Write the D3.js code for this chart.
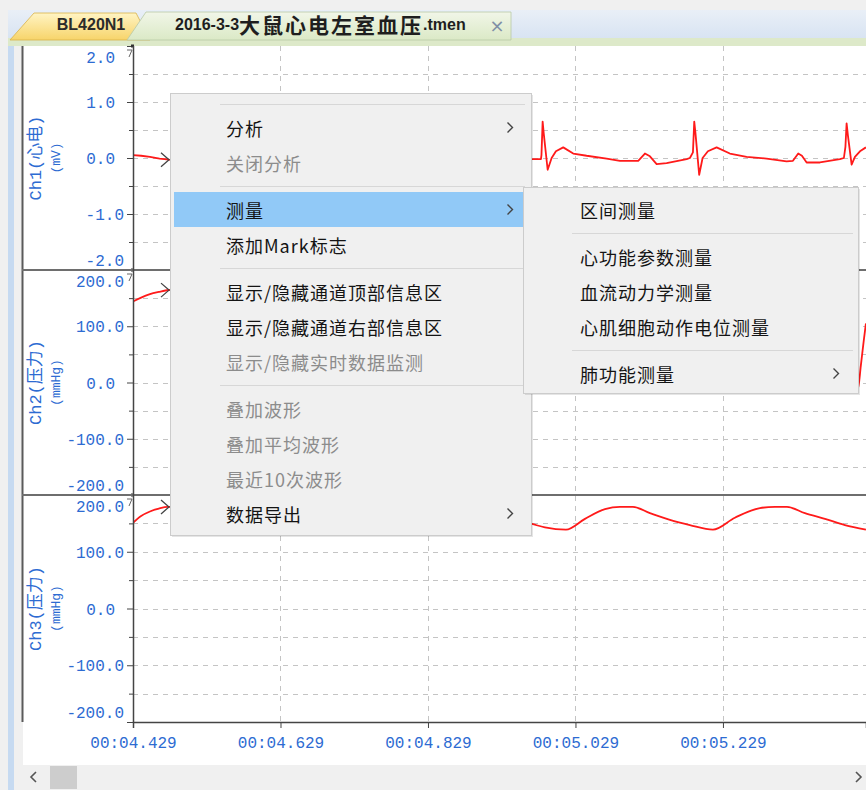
<!DOCTYPE html>
<html><head><meta charset="utf-8">
<script src="https://cdn.jsdelivr.net/npm/d3@7"></script>
<style>body{margin:0;background:#f0f0f0;overflow:hidden}svg{display:block}</style>
</head><body>
<svg id="c" width="866" height="790"></svg>
<script>
// ---------- data ----------
const xTickValues = [4.429, 4.629, 4.829, 5.029, 5.229];
const xTickLabels = ["00:04.429", "00:04.629", "00:04.829", "00:05.029", "00:05.229"];
const xDomain = [4.429, 5.423];

const channelNames = ["Ch1(心电)", "Ch2(压力)", "Ch3(压力)"];
const channelUnits = ["(mV)", "(mmHg)", "(mmHg)"];

const ch1Domain = [-2, 2];
const ch1TickValues = [2, 1, 0, -1, -2];
const ch1TickLabels = ["2.0", "1.0", "0.0", "-1.0", "-2.0"];
const ch1MinorTicks = [1.5, 0.5, -0.5, -1.5];

const pressDomain = [-200, 200];
const pressTickValues = [200, 100, 0, -100, -200];
const pressTickLabels = ["200.0", "100.0", "0.0", "-100.0", "-200.0"];
const pressMinorTicks = [150, 50, -50, -150];

// Ch1 ECG (mV)
const ecgSamples = [
 [4.429,0.05],[4.440,0.04],[4.452,0.02],[4.465,-0.01],[4.478,-0.03],[4.495,-0.05],[4.512,-0.05],[4.520,0.08],[4.527,0.03],[4.536,-0.11],[4.550,-0.09],[4.564,-0.02],
 [4.5716,0.0],[4.5730,0.64],[4.5744,0.48],[4.5798,-0.22],[4.5852,0.0],[4.5920,0.12],[4.6015,0.19],[4.6150,0.08],[4.6327,0.04],[4.6598,-0.01],[4.6788,-0.05],[4.7032,-0.05],[4.7113,0.08],[4.7181,0.03],[4.7276,-0.11],[4.7411,-0.09],[4.7683,-0.02],
 [4.7776,0.0],[4.7790,0.66],[4.7804,0.50],[4.7858,-0.25],[4.7912,0.0],[4.7980,0.12],[4.8075,0.18],[4.8210,0.08],[4.8387,0.03],[4.8658,-0.01],[4.8848,-0.05],[4.9092,-0.05],[4.9173,0.08],[4.9241,0.02],[4.9336,-0.10],[4.9471,-0.09],[4.9700,-0.02],
 [4.9822,-0.02],[4.9829,0.05],[4.9845,0.65],[4.9859,0.45],[4.9913,-0.21],[4.9967,0.0],[5.0025,0.12],[5.0124,0.19],[5.0260,0.08],[5.0442,0.04],[5.0713,-0.01],[5.0893,-0.05],[5.1141,-0.05],[5.1232,0.08],[5.1300,0.03],[5.1391,-0.11],[5.1526,-0.09],[5.1798,-0.02],[5.1842,0.0],
 [5.1883,0.10],[5.1901,0.65],[5.1917,0.45],[5.1968,-0.30],[5.2014,0.0],[5.2086,0.12],[5.2204,0.19],[5.2384,0.08],[5.2611,0.02],[5.2882,-0.01],[5.3153,-0.06],[5.3239,-0.05],[5.3311,0.08],[5.3361,0.04],[5.3425,-0.08],[5.3605,-0.08],[5.3876,-0.02],[5.3930,0.0],
 [5.3951,0.20],[5.3967,0.62],[5.3985,0.40],[5.4035,-0.12],[5.4080,0.02],[5.4148,0.12],[5.4229,0.19]
];
// Ch2 left-ventricular pressure (mmHg)
const lvSamples = [
 [4.429,144],[4.440,151],[4.452,157],[4.464,161],[4.475,164],[4.487,165],[4.498,160],[4.510,140],[4.520,90],[4.530,35],[4.540,10],[4.555,4],[4.575,3],
 [4.585,20],[4.592,80],[4.600,140],[4.612,165],[4.625,172],[4.640,168],[4.655,150],[4.668,100],[4.678,40],[4.690,10],[4.710,4],[4.740,3],[4.780,3],
 [4.790,30],[4.798,100],[4.810,155],[4.825,170],[4.840,168],[4.855,150],[4.868,100],[4.880,40],[4.892,10],[4.910,4],[4.950,3],[4.988,3],
 [4.996,40],[5.004,110],[5.015,155],[5.030,170],[5.045,168],[5.060,150],[5.073,100],[5.085,40],[5.097,10],[5.115,4],[5.155,3],[5.192,3],
 [5.200,40],[5.208,110],[5.220,155],[5.235,170],[5.250,168],[5.265,150],[5.278,100],[5.290,40],[5.302,10],[5.320,4],[5.360,3],[5.405,2],
 [5.412,-12],[5.416,30],[5.420,75],[5.4229,105]
];
// Ch3 arterial pressure (mmHg)
const artSamples = [
 [4.429,151],[4.440,163],[4.452,171],[4.464,176],[4.476,179],[4.495,179],[4.518,168],[4.545,155],[4.572,146],[4.600,140],[4.625,158],[4.652,174],[4.672,179],[4.690,179],
 [4.712,168],[4.740,155],[4.770,146],[4.808,140],[4.830,158],[4.858,174],[4.880,179],[4.898,179],[4.920,168],[4.945,157],[4.970,149],[4.9876,143],[5.0161,139],
 [5.0419,158],[5.0690,175],[5.0893,179],[5.1069,179],[5.1300,168],[5.1571,156],[5.1842,147],[5.2154,139],[5.2452,160],[5.2791,177],[5.2995,179],[5.3158,179],
 [5.3402,168],[5.3673,158],[5.3944,147],[5.4229,139]
];

const tabLabels = ["BL420N1", "2016-3-3", "大鼠心电左室血压", ".tmen"];
const menuEntries = ["-", "分析", "关闭分析", "-", "测量", "添加Mark标志", "-", "显示/隐藏通道顶部信息区", "显示/隐藏通道右部信息区", "显示/隐藏实时数据监测", "-", "叠加波形", "叠加平均波形", "最近10次波形", "数据导出"];
const menuDisabled = ["关闭分析", "显示/隐藏实时数据监测", "叠加波形", "叠加平均波形", "最近10次波形"];
const menuWithSub = ["分析", "测量", "数据导出"];
const menuHighlighted = "测量";
const subEntries = ["区间测量", "-", "心功能参数测量", "血流动力学测量", "心肌细胞动作电位测量", "-", "肺功能测量"];
const subWithSub = ["肺功能测量"];

// ---------- drawing ----------
const W = 866, H = 790;
const svg = d3.select("#c");
const plotL = 133, plotR = 866, frameL = 22;
const panels = [
  {top: 46, bottom: 270, domain: ch1Domain, ticks: ch1TickValues, labels: ch1TickLabels, minor: ch1MinorTicks, data: ecgSamples, curve: d3.curveLinear},
  {top: 270, bottom: 495, domain: pressDomain, ticks: pressTickValues, labels: pressTickLabels, minor: pressMinorTicks, data: lvSamples, curve: d3.curveMonotoneX},
  {top: 495, bottom: 722, domain: pressDomain, ticks: pressTickValues, labels: pressTickLabels, minor: pressMinorTicks, data: artSamples, curve: d3.curveMonotoneX}
];
const blue = "#2d6bd2";
const monoFont = "'Liberation Mono', 'DejaVu Sans Mono', 'Noto Sans CJK SC', monospace";
const cjkFont = "'Noto Sans CJK SC', 'Noto Sans', sans-serif";

const x = d3.scaleLinear().domain(xDomain).range([plotL, plotR]);

// background
svg.append("rect").attr("width", W).attr("height", H).attr("fill", "#f0f0f0");
svg.append("rect").attr("x", 8).attr("y", 10).attr("width", 6).attr("height", H - 10).attr("fill", "#c6daf1");
svg.append("rect").attr("x", frameL + 1).attr("y", 46).attr("width", W - frameL).attr("height", 719).attr("fill", "#fff");

// tab strip
const defs = svg.append("defs");
const g1 = defs.append("linearGradient").attr("id", "tabY").attr("x1", 0).attr("y1", 0).attr("x2", 0).attr("y2", 1);
g1.append("stop").attr("offset", 0).attr("stop-color", "#fff4c4");
g1.append("stop").attr("offset", 1).attr("stop-color", "#f7d46a");
const g2 = defs.append("linearGradient").attr("id", "tabG").attr("x1", 0).attr("y1", 0).attr("x2", 0).attr("y2", 1);
g2.append("stop").attr("offset", 0).attr("stop-color", "#f1f6e8");
g2.append("stop").attr("offset", 1).attr("stop-color", "#dbe9c6");
const g3 = defs.append("linearGradient").attr("id", "strip").attr("x1", 0).attr("y1", 0).attr("x2", 0).attr("y2", 1);
g3.append("stop").attr("offset", 0).attr("stop-color", "#e9eff7");
g3.append("stop").attr("offset", 1).attr("stop-color", "#d7e3f2");
svg.append("rect").attr("x", 8).attr("y", 10).attr("width", W - 8).attr("height", 30).attr("fill", "url(#strip)");
svg.append("rect").attr("x", 8).attr("y", 38).attr("width", W - 8).attr("height", 8).attr("fill", "#dde9c9");
svg.append("path").attr("d", "M10,40 L34,13 L136,13 L150,40 Z").attr("fill", "url(#tabY)").attr("stroke", "#d9b34a").attr("stroke-width", 0.8);
svg.append("path").attr("d", "M127,40 L146,12 L511,12 L511,40 Z").attr("fill", "url(#tabG)").attr("stroke", "#b9c9a6").attr("stroke-width", 0.8);
svg.append("text").attr("x", 91).attr("y", 24).attr("text-anchor", "middle").attr("dominant-baseline", "central")
  .attr("font-family", "'Liberation Sans', sans-serif").attr("font-weight", "bold").attr("font-size", 16).attr("fill", "#2b2b2b").text(tabLabels[0]);
const tt = svg.append("text").attr("x", 175).attr("y", 24).attr("dominant-baseline", "central")
  .attr("font-weight", "bold").attr("fill", "#1e1e1e");
tt.append("tspan").attr("font-family", "'Liberation Sans', sans-serif").attr("font-size", 16).text(tabLabels[1]);
tt.append("tspan").attr("font-family", cjkFont).attr("font-size", 21).attr("letter-spacing", 2).text(tabLabels[2]);
tt.append("tspan").attr("font-family", "'Liberation Sans', sans-serif").attr("font-size", 16).text(tabLabels[3]);
svg.append("text").attr("x", 497).attr("y", 25).attr("text-anchor", "middle").attr("dominant-baseline", "central")
  .attr("font-family", "'DejaVu Sans', sans-serif").attr("font-size", 18).attr("fill", "#7f8fa6").text("×");

// left frame line
svg.append("line").attr("x1", frameL + 0.5).attr("x2", frameL + 0.5).attr("y1", 46).attr("y2", 722)
  .attr("stroke", "#5a5a5a").attr("stroke-width", 2);

// vertical grid
const vg = svg.append("g");
xTickValues.slice(1).forEach(t => {
  vg.append("line").attr("x1", Math.round(x(t)) + 0.5).attr("x2", Math.round(x(t)) + 0.5).attr("y1", 46).attr("y2", 722)
    .attr("stroke", "#c4c4c4").attr("stroke-dasharray", "5,5");
});

panels.forEach((p, i) => {
  const y = d3.scaleLinear().domain(p.domain).range([p.bottom, p.top]);
  p.y = y;
  // horizontal grid
  const gridVals = [...p.minor, ...p.ticks.filter(v => v !== p.domain[0] && v !== p.domain[1])];
  gridVals.forEach(v => {
    svg.append("line").attr("x1", plotL).attr("x2", plotR).attr("y1", Math.round(y(v)) + 0.5).attr("y2", Math.round(y(v)) + 0.5)
      .attr("stroke", "#c4c4c4").attr("stroke-dasharray", "5,5");
  });
  // signal
  const clipId = "clip" + i;
  defs.append("clipPath").attr("id", clipId).append("rect").attr("x", plotL).attr("y", p.top).attr("width", plotR - plotL).attr("height", p.bottom - p.top);
  const line = d3.line().x(d => x(d[0])).y(d => y(d[1])).curve(p.curve);
  svg.append("path").datum(p.data).attr("d", line).attr("fill", "none").attr("stroke", "#ff1a1a")
    .attr("stroke-width", 1.8).attr("stroke-linejoin", "round").attr("clip-path", `url(#${clipId})`);
  // y axis major
  const ax = svg.append("g").attr("transform", `translate(${plotL},0)`)
    .call(d3.axisLeft(y).tickValues(p.ticks).tickFormat((d, k) => p.labels[k]).tickSize(6).tickPadding(3));
  ax.select(".domain").remove();
  ax.selectAll(".tick line").attr("stroke", "#444");
  ax.selectAll(".tick text").attr("fill", blue).attr("font-family", monoFont).attr("font-size", 16)
    .attr("dx", (d, k) => p.labels[k].length === 3 ? -9 : 0)
    .attr("dy", (d, k) => k === 0 ? "1.05em" : (k === p.ticks.length - 1 ? "-0.3em" : "0.35em"));
  // minor ticks
  const mx = svg.append("g").attr("transform", `translate(${plotL},0)`)
    .call(d3.axisLeft(y).tickValues(p.minor).tickFormat("").tickSize(4));
  mx.select(".domain").remove();
  mx.selectAll(".tick line").attr("stroke", "#444");
  // top marker
  svg.append("rect").attr("x", plotL - 2).attr("y", p.top - 1.5).attr("width", 3).attr("height", 3).attr("fill", "#333");
  svg.append("path").attr("d", `M${plotL - 6},${p.top + 4} L${plotL - 1},${p.top + 4} L${plotL - 4},${p.top + 11}`)
    .attr("fill", "none").attr("stroke", "#666").attr("stroke-width", 1);
  // channel title
  const cy = (p.top + p.bottom) / 2;
  svg.append("text").attr("transform", `translate(36,${cy}) rotate(-90)`).attr("text-anchor", "middle")
    .attr("dominant-baseline", "central").attr("font-family", monoFont).attr("font-size", 17).attr("fill", blue)
    .text(channelNames[i]);
  svg.append("text").attr("transform", `translate(56,${cy}) rotate(-90)`).attr("text-anchor", "middle")
    .attr("dominant-baseline", "central").attr("font-family", monoFont).attr("font-size", 13).attr("fill", blue)
    .text(channelUnits[i]);
  // cursor arrow at signal
  const tx = x.invert(169);
  const bis = d3.bisector(d => d[0]).left;
  const k = bis(p.data, tx);
  const a = p.data[k - 1], b = p.data[k];
  const v = a[1] + (b[1] - a[1]) * (tx - a[0]) / (b[0] - a[0]);
  const ty = y(v);
  svg.append("path").attr("d", `M161,${ty - 7} L169,${ty} L161,${ty + 7}`).attr("fill", "none").attr("stroke", "#444").attr("stroke-width", 1.3);
});

// panel dividers
[270, 495].forEach(yy => {
  svg.append("line").attr("x1", frameL).attr("x2", W).attr("y1", yy).attr("y2", yy).attr("stroke", "#6e6e6e").attr("stroke-width", 2);
});
// y axis line
svg.append("line").attr("x1", plotL + 0.5).attr("x2", plotL + 0.5).attr("y1", 46).attr("y2", 723).attr("stroke", "#444").attr("stroke-width", 1.5);

// x axis
const xa = svg.append("g").attr("transform", "translate(0,722)")
  .call(d3.axisBottom(x).tickValues(xTickValues).tickFormat((d, k) => xTickLabels[k]).tickSize(6).tickPadding(9));
xa.select(".domain").attr("stroke", "#444").attr("stroke-width", 1.5);
xa.selectAll(".tick line").attr("stroke", "#444");
xa.selectAll(".tick text").attr("fill", blue).attr("font-family", monoFont).attr("font-size", 16);

// scrollbar
svg.append("rect").attr("x", frameL + 1).attr("y", 765).attr("width", W - frameL).attr("height", 25).attr("fill", "#f0f0f0");
svg.append("rect").attr("x", 50).attr("y", 766).attr("width", 27).attr("height", 23).attr("fill", "#cdcdcd");
svg.append("path").attr("d", "M36,772 L31,777 L36,782").attr("fill", "none").attr("stroke", "#555").attr("stroke-width", 1.6);
svg.append("path").attr("d", "M856,772 L861,777 L856,782").attr("fill", "none").attr("stroke", "#555").attr("stroke-width", 1.6);

// ---------- context menus ----------
function chevron(g, cx, cy) {
  g.append("path").attr("d", `M${cx - 2.5},${cy - 5} L${cx + 2.5},${cy} L${cx - 2.5},${cy + 5}`)
    .attr("fill", "none").attr("stroke", "#444").attr("stroke-width", 1.4);
}
function drawMenu(opts) {
  const g = svg.append("g");
  let cur = opts.top + 5;
  const rows = opts.entries.map(e => {
    if (e === "-") { const r = {sep: true, y: cur + 6}; cur += 12; return r; }
    const r = {label: e, y0: cur, y: cur + 17.5}; cur += 35; return r;
  });
  const bottom = cur + opts.padBottom;
  g.append("rect").attr("x", opts.left + 2).attr("y", opts.top + 2).attr("width", opts.right - opts.left).attr("height", bottom - opts.top)
    .attr("fill", "rgba(0,0,0,0.10)");
  g.append("rect").attr("x", opts.left + 0.5).attr("y", opts.top + 0.5).attr("width", opts.right - opts.left).attr("height", bottom - opts.top)
    .attr("fill", "#f0f0f0").attr("stroke", "#cccccc");
  rows.forEach(r => {
    if (r.sep) {
      g.append("line").attr("x1", opts.sepL).attr("x2", opts.sepR).attr("y1", r.y + 0.5).attr("y2", r.y + 0.5).attr("stroke", "#d7d7d7");
      return;
    }
    if (r.label === opts.highlight) {
      g.append("rect").attr("x", opts.left + 4).attr("y", r.y0).attr("width", opts.hlRight - opts.left - 4).attr("height", 35).attr("fill", "#91c9f7");
    }
    const dis = opts.disabled.includes(r.label);
    g.append("text").attr("x", opts.textX).attr("y", r.y).attr("dominant-baseline", "central")
      .attr("font-family", cjkFont).attr("font-size", 18).attr("letter-spacing", 1)
      .attr("fill", dis ? "#8c8c8c" : "#141414").text(r.label);
    if (opts.withSub.includes(r.label)) chevron(g, opts.arrowX, r.y);
  });
}
drawMenu({left: 170, right: 531, top: 93, padBottom: 4, entries: menuEntries, disabled: menuDisabled, withSub: menuWithSub,
  highlight: menuHighlighted, hlRight: 523, textX: 226, sepL: 220, sepR: 525, arrowX: 510});
drawMenu({left: 523, right: 858, top: 187, padBottom: 2, entries: subEntries, disabled: [], withSub: subWithSub,
  highlight: null, hlRight: 0, textX: 580, sepL: 572, sepR: 853, arrowX: 836});
</script>
</body></html>
